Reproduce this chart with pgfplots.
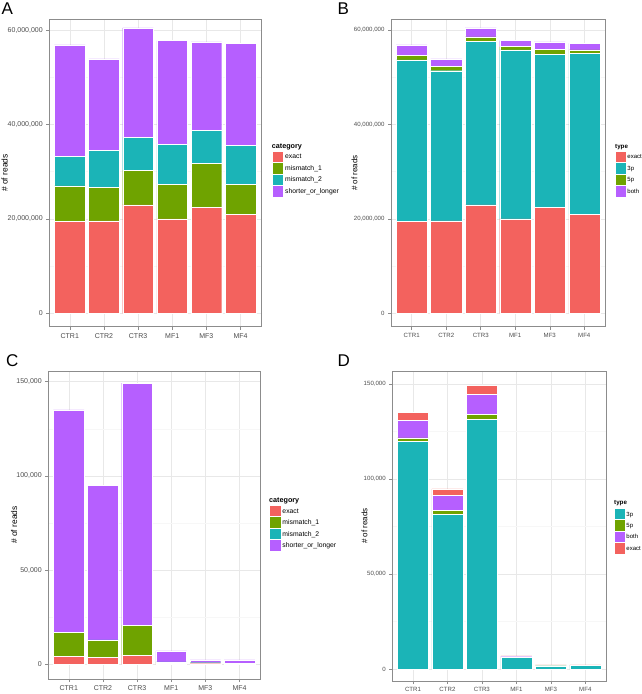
\documentclass[border=0pt]{standalone}
\usepackage{pgfplots}
\pgfplotsset{compat=1.18}
\usepackage{fontspec}
\setmainfont{Liberation Sans}
\definecolor{cexact}{HTML}{F3625E}
\definecolor{cgreen}{HTML}{6FA300}
\definecolor{cteal}{HTML}{1BB4B7}
\definecolor{cpurple}{HTML}{B65FFF}
\definecolor{cborder}{HTML}{8C8C8C}
\definecolor{ctick}{HTML}{4D4D4D}

\pgfplotstableread{
x exact m1 m2 sol
1 19500000 7500000 6300000 23600000
2 19600000 7100000 7800000 19400000
3 23000000 7300000 7000000 23200000
4 20000000 7300000 8500000 22000000
5 22400000 9400000 7000000 18700000
6 21000000 6300000 8300000 21600000
}\tabA
\pgfplotstableread{
x exact tp fp both
1 19500000 34200000 1000000 2200000
2 19600000 31800000 900000 1600000
3 23000000 34700000 900000 1900000
4 20000000 35800000 700000 1300000
5 22400000 32400000 1200000 1500000
6 21000000 34100000 700000 1400000
}\tabB
\pgfplotstableread{
x exact m1 m2 sol
1 4300 12600 200 117900
2 3600 9200 150 81950
3 4700 15900 200 128500
4 500 700 50 5850
5 300 500 30 1470
6 150 350 30 1770
}\tabC
\pgfplotstableread{
x tp fp both exact
1 119900 1800 9000 4300
2 81300 2200 7800 3600
3 131500 2400 10700 4700
4 6100 100 400 500
5 1800 50 150 300
6 2020 30 100 150
}\tabD

\pgfplotsset{
  ggbar/.style={
    scale only axis, anchor=south west,
    ybar stacked, bar width=0.9,
    xmin=0.4, xmax=6.6,
    xtick={1,2,3,4,5,6},
    xticklabels={CTR1,CTR2,CTR3,MF1,MF3,MF4},
    xtick pos=bottom, ytick pos=left,
    axis line style={draw=cborder, line width=0.6pt},
    tick style={draw=cborder, line width=0.5pt},
    tick align=outside,
    major tick length=3pt, minor tick length=0pt,
    xmajorgrids, ymajorgrids, yminorgrids, minor y tick num=1,
    major grid style={draw=black!9, line width=0.5pt},
    minor grid style={draw=black!3, line width=0.5pt},
    scaled y ticks=false,
    ticklabel style={text=ctick},
    ylabel={\# of reads},
    every axis plot/.append style={draw=white, line width=0.4pt},
    legend style={draw=none, fill=none, inner sep=0pt, outer sep=0pt,
      row sep=-0.6pt, column sep=1.5pt, anchor=north west,
      nodes={inner sep=0pt, text depth=0pt}},
    legend cell align=left,
  },
  keyA/.style={legend image code/.code={\draw[##1] (0pt,-5.8pt) rectangle (11.6pt,5.8pt);}},
  keyB/.style={legend image code/.code={\draw[##1] (0pt,-5.8pt) rectangle (10.6pt,5.8pt);}},
}

\begin{document}
\begin{tikzpicture}
\path[use as bounding box, fill=white] (0pt,0pt) rectangle (641pt,694pt);

% ---------------- A ----------------
\begin{axis}[ggbar, keyA,
  at={(49.3pt,367.3pt)}, width=211.7pt, height=307.4pt,
  ymin=-2840000, ymax=62300000,
  ytick={0,20000000,40000000,60000000},
  yticklabels={0,{20,000,000},{40,000,000},{60,000,000}},
  ticklabel style={font=\fontsize{7}{8}\selectfont},
  ylabel style={font=\fontsize{8.4}{9}\selectfont, at={(axis description cs:-0.2116,0.5)}, anchor=center},
  legend style={at={(1.0505,0.5725)}, font=\fontsize{6.8}{7}\selectfont},
]
\addplot[fill=cexact] table[x=x,y=exact]{\tabA};
\addplot[fill=cgreen] table[x=x,y=m1]{\tabA};
\addplot[fill=cteal] table[x=x,y=m2]{\tabA};
\addplot[fill=cpurple] table[x=x,y=sol]{\tabA};
\legend{exact,mismatch\_1,mismatch\_2,shorter\_or\_longer}
\end{axis}
\node[anchor=west, inner sep=0pt, font=\fontsize{7.2}{8}\selectfont\bfseries] at (271.7pt,547pt) {category};

% ---------------- B ----------------
\begin{axis}[ggbar, keyB,
  at={(391pt,367.3pt)}, width=214pt, height=307.4pt,
  ymin=-2840000, ymax=62300000,
  ytick={0,20000000,40000000,60000000},
  yticklabels={0,{20,000,000},{40,000,000},{60,000,000}},
  ticklabel style={font=\fontsize{6.1}{7}\selectfont},
  ylabel style={font=\fontsize{8}{9}\selectfont, at={(axis description cs:-0.1706,0.5)}, anchor=center},
  legend style={at={(1.0467,0.5725)}, font=\fontsize{6}{7}\selectfont},
]
\addplot[fill=cexact] table[x=x,y=exact]{\tabB};
\addplot[fill=cteal] table[x=x,y=tp]{\tabB};
\addplot[fill=cgreen] table[x=x,y=fp]{\tabB};
\addplot[fill=cpurple] table[x=x,y=both]{\tabB};
\legend{exact,3p,5p,both}
\end{axis}
\node[anchor=west, inner sep=0pt, font=\fontsize{6.2}{7}\selectfont\bfseries] at (615pt,547pt) {type};

% ---------------- C ----------------
\begin{axis}[ggbar, keyA,
  at={(48.3pt,15pt)}, width=211.7pt, height=308pt,
  ymin=-7800, ymax=155700,
  ytick={0,50000,100000,150000},
  yticklabels={0,{50,000},{100,000},{150,000}},
  ticklabel style={font=\fontsize{7}{8}\selectfont},
  ylabel style={font=\fontsize{8.4}{9}\selectfont, at={(axis description cs:-0.162,0.5)}, anchor=center},
  legend style={at={(1.0425,0.5649)}, font=\fontsize{6.8}{7}\selectfont},
]
\addplot[fill=cexact] table[x=x,y=exact]{\tabC};
\addplot[fill=cgreen] table[x=x,y=m1]{\tabC};
\addplot[fill=cteal] table[x=x,y=m2]{\tabC};
\addplot[fill=cpurple] table[x=x,y=sol]{\tabC};
\legend{exact,mismatch\_1,mismatch\_2,shorter\_or\_longer}
\end{axis}
\node[anchor=west, inner sep=0pt, font=\fontsize{7.2}{8}\selectfont\bfseries] at (269pt,193pt) {category};

% ---------------- D ----------------
\begin{axis}[ggbar, keyB,
  at={(392.3pt,13pt)}, width=213.7pt, height=310pt,
  ymin=-6150, ymax=156800,
  ytick={0,50000,100000,150000},
  yticklabels={0,{50,000},{100,000},{150,000}},
  ticklabel style={font=\fontsize{6.1}{7}\selectfont},
  ylabel style={font=\fontsize{8}{9}\selectfont, at={(axis description cs:-0.130,0.5)}, anchor=center},
  legend style={at={(1.0374,0.558)}, font=\fontsize{6}{7}\selectfont},
]
\addplot[fill=cteal] table[x=x,y=tp]{\tabD};
\addplot[fill=cgreen] table[x=x,y=fp]{\tabD};
\addplot[fill=cpurple] table[x=x,y=both]{\tabD};
\addplot[fill=cexact] table[x=x,y=exact]{\tabD};
\legend{3p,5p,both,exact}
\end{axis}
\node[anchor=west, inner sep=0pt, font=\fontsize{6.2}{7}\selectfont\bfseries] at (614pt,190.5pt) {type};

% panel letters
\node[anchor=base west, inner sep=0pt, font=\fontsize{17}{18}\selectfont] at (1.5pt,679pt) {A};
\node[anchor=base west, inner sep=0pt, font=\fontsize{17}{18}\selectfont] at (337.5pt,679pt) {B};
\node[anchor=base west, inner sep=0pt, font=\fontsize{17}{18}\selectfont] at (6pt,327pt) {C};
\node[anchor=base west, inner sep=0pt, font=\fontsize{17}{18}\selectfont] at (337.5pt,327pt) {D};
\end{tikzpicture}
\end{document}
